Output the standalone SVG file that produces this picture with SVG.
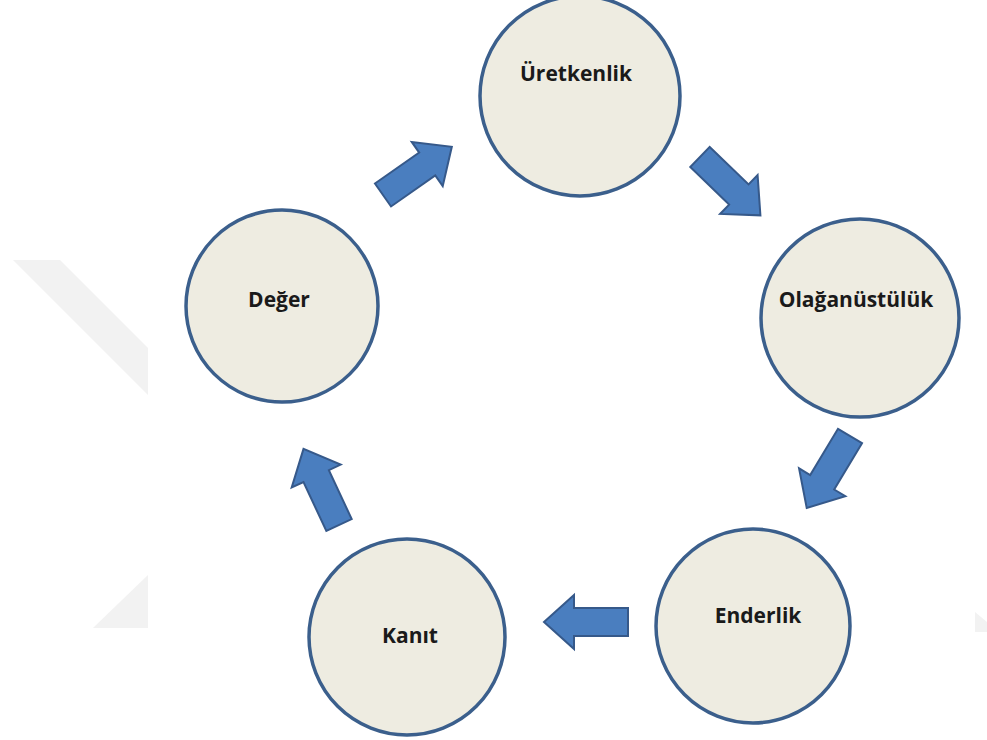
<svg xmlns="http://www.w3.org/2000/svg" width="987" height="740" viewBox="0 0 987 740">
<style>
.node circle{fill:#EEECE1;stroke:#3B5F8C;stroke-width:3.5}
.node text{font-family:"Open Sans","Liberation Sans",sans-serif;font-weight:bold;font-size:21px;fill:#1a1a1a;text-anchor:middle}
.arrow{fill:#4A7EBF;stroke:#36598A;stroke-width:2;stroke-linejoin:miter}
.wm{fill:#F2F2F2}
</style>
<defs>
<path id="blk" d="M0,-14 L54,-14 L54,-27 L84,0 L54,27 L54,14 L0,14 Z"/>
</defs>
<rect width="987" height="740" fill="#FFFFFF"/>
<g id="watermark">
<polygon class="wm" points="13,260 60,260 148,348 148,395"/>
<polygon class="wm" points="148,575 148,628 93,628"/>
<polygon class="wm" points="975,612 987,622 987,632 975,632"/>
</g>
<g id="connectors">
<use href="#blk" class="arrow" transform="translate(383,195) rotate(-35)"/>
<use href="#blk" class="arrow" transform="translate(700,157) rotate(44)"/>
<use href="#blk" class="arrow" transform="translate(850,436) rotate(121)"/>
<use href="#blk" class="arrow" transform="translate(628,622) rotate(180)"/>
<use href="#blk" class="arrow" transform="translate(339,525) rotate(-115)"/>
</g>
<g id="node-uretkenlik" class="node">
<circle cx="580" cy="96" r="100"/>
<text x="576" y="81">Üretkenlik</text>
</g>
<g id="node-olaganustuluk" class="node">
<circle cx="860" cy="318" r="99"/>
<text x="856" y="307">Olağanüstülük</text>
</g>
<g id="node-enderlik" class="node">
<circle cx="753" cy="626" r="97"/>
<text x="758" y="623">Enderlik</text>
</g>
<g id="node-kanit" class="node">
<circle cx="407" cy="637" r="98"/>
<text x="410" y="643">Kanıt</text>
</g>
<g id="node-deger" class="node">
<circle cx="282" cy="306" r="96"/>
<text x="279" y="307">Değer</text>
</g>
</svg>
